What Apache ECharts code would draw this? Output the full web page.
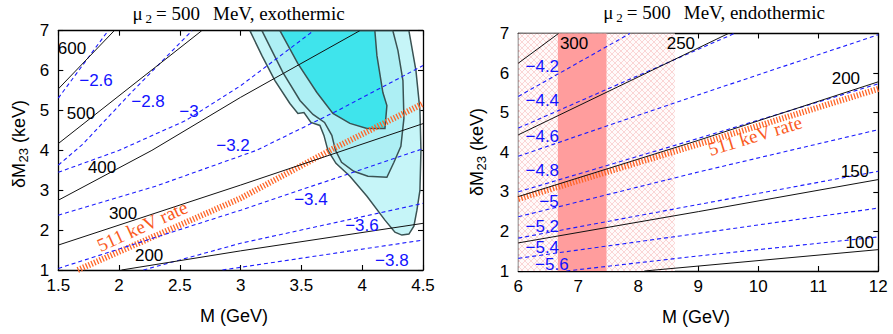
<!DOCTYPE html>
<html>
<head>
<meta charset="utf-8">
<script src="https://cdn.jsdelivr.net/npm/echarts@6/dist/echarts.min.js"></script>
<style>
  html, body { margin: 0; padding: 0; background: #fff; }
  #chart { width: 893px; height: 334px; }
</style>
</head>
<body>
<div id="chart"></div>
<script>
// ---------------- axis ticks ----------------
const exoMassTicks = [1.5, 2, 2.5, 3, 3.5, 4, 4.5];
const endoMassTicks = [6, 7, 8, 9, 10, 11, 12];
const splittingTicks = [1, 2, 3, 4, 5, 6, 7];

// ---------------- exothermic panel ----------------
// contours of constant mu_1 (MeV), points are [M (GeV), dM23 (keV)]
const exoMu600 = [[1.5, 5.54], [1.96, 7]];
const exoMu500 = [[1.5, 4.17], [2.68, 7]];
const exoMu400 = [[1.5, 2.75], [2.27, 4.0], [3.0, 5.33], [3.98, 7]];
const exoMu300 = [[1.5, 1.625], [3.0, 3.13], [4.5, 4.67]];
const exoMu200 = [[2.02, 1.0], [3.0, 1.48], [4.5, 2.17]];
// contours of log10 of the rate
const exoRate26 = [[1.5, 5.31], [1.91, 7]];
const exoRate28 = [[1.5, 3.63], [1.7, 4.15], [2.1, 5.45], [2.6, 7]];
const exoRate30 = [[1.5, 3.45], [2.0, 4.0], [2.55, 4.75], [3.0, 5.62], [3.6, 7]];
const exoRate32 = [[1.5, 2.375], [2.3, 3.1], [3.13, 4.0], [3.8, 5.0], [4.5, 6.125]];
const exoRate34 = [[1.5, 1.04], [3.0, 2.5], [4.5, 4.04]];
const exoRate36 = [[2.2, 1.0], [3.0, 1.67], [4.5, 2.67]];
const exoRate38 = [[2.85, 1.0], [4.5, 1.75]];
// rate needed for the 511 keV line
const exoPositron = [[1.66, 1.0], [3.0, 2.8], [3.76, 4.04], [4.5, 5.17]];
// allowed regions (outer, middle, inner)
const exoRegionOuter = [[3.076, 7.0], [3.175, 6.375], [3.282, 5.75], [3.405, 5.175], [3.471, 4.925],
  [3.521, 4.95], [3.578, 4.7], [3.652, 4.625], [3.685, 4.375], [3.718, 4.0], [3.784, 3.675],
  [3.899, 3.35], [4.039, 2.85], [4.187, 2.25], [4.269, 1.95], [4.326, 1.875], [4.384, 1.9],
  [4.425, 2.1], [4.45, 2.5], [4.475, 3.0], [4.483, 4.0], [4.475, 5.0], [4.442, 6.0], [4.384, 7.0]];
const exoRegionMiddle = [[3.175, 7.0], [3.257, 6.5], [3.348, 5.95], [3.488, 5.25], [3.595, 4.9],
  [3.69, 4.7], [3.75, 4.375], [3.78, 4.0], [3.83, 3.7], [3.93, 3.475], [4.047, 3.35],
  [4.203, 3.325], [4.261, 3.7], [4.318, 4.1], [4.343, 4.8], [4.335, 5.75], [4.294, 6.5], [4.252, 7.0]];
const exoRegionInner = [[3.323, 7.0], [3.471, 6.175], [3.627, 5.45], [3.759, 4.925], [3.899, 4.675],
  [4.039, 4.55], [4.187, 4.55], [4.203, 5.125], [4.17, 5.45], [4.121, 6.375], [4.104, 7.0]];
// label texts and anchor points
const exoMuLabels = [['600', 1.613, 6.55], ['500', 1.687, 4.92], ['400', 1.86, 3.575],
  ['300', 2.033, 2.425], ['200', 2.247, 1.375]];
const exoRateLabels = [['\u22122.6', 1.81, 5.75], ['\u22122.8', 2.238, 5.225], ['\u22123', 2.575, 4.975],
  ['\u22123.2', 2.937, 4.125], ['\u22123.4', 3.578, 2.775], ['\u22123.6', 3.998, 2.125], ['\u22123.8', 4.244, 1.25]];
const exoPositronLabel = ['511 keV rate', 2.19, 2.1, 24.5];

// ---------------- endothermic panel ----------------
const endoMu300 = [[6, 6.25], [6.67, 7.0]];
const endoMu250 = [[6, 4.44], [9.5, 7.0]];
const endoMu200 = [[6, 2.88], [9, 4.3], [12, 5.78]];
const endoMu150 = [[6, 1.71], [9, 2.5], [12, 3.31]];
const endoMu100 = [[8.1, 1.0], [12, 1.54]];
const endoRate42 = [[6, 5.41], [7.86, 7.0]];
const endoRate44 = [[6, 4.61], [9.6, 7.0]];
const endoRate46 = [[6, 3.9], [9, 5.45], [12, 6.97]];
const endoRate48 = [[6, 3.0], [9, 4.35], [12, 5.73]];
const endoRate50 = [[6, 2.37], [9, 3.5], [12, 4.57]];
const endoRate52 = [[6, 1.83], [9, 2.68], [12, 3.52]];
const endoRate54 = [[6, 1.32], [9, 1.95], [12, 2.59]];
const endoRate56 = [[6.8, 1.0], [9, 1.38], [12, 1.86]];
const endoPositron = [[6, 2.82], [9, 4.2], [12, 5.6]];
// excluded mass ranges (GeV)
const endoHatchedRange = [6, 8.61];
const endoExcludedRange = [6.66, 7.47];
const endoMuLabels = [['300', 6.93, 6.76], ['250', 8.71, 6.76], ['200', 11.46, 5.87],
  ['150', 11.61, 3.52], ['100', 11.69, 1.71]];
const endoRateLabels = [['\u22124.2', 6.4, 6.17], ['\u22124.4', 6.4, 5.32], ['\u22124.6', 6.4, 4.40],
  ['\u22124.8', 6.4, 3.53], ['\u22125', 6.51, 2.76], ['\u22125.2', 6.4, 2.13], ['\u22125.4', 6.4, 1.6],
  ['\u22125.6', 6.56, 1.16]];
const endoPositronLabel = ['511 keV rate', 9.945, 4.42, 17];

// ---------------- styling ----------------
const SANS = 'Liberation Sans';
const SERIF = 'Liberation Serif';
const BLUE = '#1c1cff';
const BLACK = '#111';
const ORANGE = '#ff6628';

// crosshatch tile for the hatched mass range
function hatchTile() {
  const c = document.createElement('canvas');
  c.width = 6; c.height = 6;
  const g = c.getContext('2d');
  g.fillStyle = '#fffafa';
  g.fillRect(0, 0, 6, 6);
  g.strokeStyle = 'rgba(245,175,175,0.7)';
  g.lineWidth = 0.7;
  g.beginPath();
  g.moveTo(0, 0); g.lineTo(6, 6);
  g.moveTo(6, 0); g.lineTo(0, 6);
  g.stroke();
  return c.toDataURL();
}

function xAxisPair(grid, ticks) {
  const base = {
    gridIndex: grid, type: 'value',
    min: ticks[0], max: ticks[ticks.length - 1], interval: ticks[1] - ticks[0],
    axisLine: { onZero: false, lineStyle: { color: '#000', width: 1.3 } },
    axisTick: { inside: true, length: 5, lineStyle: { color: '#000', width: 1.1 } },
    splitLine: { show: false }
  };
  return [
    Object.assign({}, base, { position: 'bottom',
      axisLabel: { color: '#000', fontFamily: SANS, fontSize: 17, margin: 7 } }),
    Object.assign({}, base, { position: 'top', axisLabel: { show: false } })
  ];
}
function yAxisPair(grid, ticks) {
  const base = {
    gridIndex: grid, type: 'value',
    min: ticks[0], max: ticks[ticks.length - 1], interval: ticks[1] - ticks[0],
    axisLine: { onZero: false, lineStyle: { color: '#000', width: 1.3 } },
    axisTick: { inside: true, length: 5, lineStyle: { color: '#000', width: 1.1 } },
    splitLine: { show: false }
  };
  return [
    Object.assign({}, base, { position: 'left',
      axisLabel: { color: '#000', fontFamily: SANS, fontSize: 17, margin: 9 } }),
    Object.assign({}, base, { position: 'right', axisLabel: { show: false } })
  ];
}

function curve(points, panel, color, width, type, z) {
  return {
    type: 'line', xAxisIndex: panel * 2, yAxisIndex: panel * 2,
    data: points, symbol: 'none', showSymbol: false, silent: true, clip: true,
    lineStyle: { color: color, width: width, type: type, cap: 'butt', opacity: 1 },
    z: z, animation: false
  };
}
function region(points, fill) {
  return {
    type: 'custom', xAxisIndex: 0, yAxisIndex: 0, coordinateSystem: 'cartesian2d',
    data: [points[0]], clip: true, silent: true, z: 1, animation: false,
    renderItem: function (params, api) {
      return {
        type: 'polygon',
        shape: { points: points.map(function (p) { return api.coord(p); }) },
        style: { fill: fill, stroke: '#3a5253', lineWidth: 1.5 }
      };
    }
  };
}
function labels(list, panel, color, font, size) {
  return {
    type: 'scatter', xAxisIndex: panel * 2, yAxisIndex: panel * 2,
    symbolSize: 0, silent: true, z: 6, animation: false,
    itemStyle: { opacity: 1 },
    data: list.map(function (l) { return { name: l[0], value: [l[1], l[2]] }; }),
    label: {
      show: true, formatter: '{b}', position: [0, 0], align: 'center', verticalAlign: 'middle',
      color: color, fontFamily: font, fontSize: size, opacity: 1
    }
  };
}
function slantedLabel(l, panel) {
  return {
    type: 'scatter', xAxisIndex: panel * 2, yAxisIndex: panel * 2,
    symbolSize: 0, silent: true, z: 6, animation: false,
    itemStyle: { opacity: 1 },
    data: [{ name: l[0], value: [l[1], l[2]] }],
    label: {
      show: true, formatter: '{b}', position: [0, 0], align: 'center', verticalAlign: 'middle',
      rotate: l[3], color: '#fa5a1e', fontFamily: SERIF, fontSize: 19, opacity: 1
    }
  };
}

const series = [
  region(exoRegionOuter, '#c6f5f8'),
  region(exoRegionMiddle, '#adeff4'),
  region(exoRegionInner, '#3fe4ec'),
  curve(exoPositron, 0, ORANGE, 6, [1.3, 1.7], 3),
  curve(exoRate26, 0, BLUE, 1.1, [4, 3], 4),
  curve(exoRate28, 0, BLUE, 1.1, [4, 3], 4),
  curve(exoRate30, 0, BLUE, 1.1, [4, 3], 4),
  curve(exoRate32, 0, BLUE, 1.1, [4, 3], 4),
  curve(exoRate34, 0, BLUE, 1.1, [4, 3], 4),
  curve(exoRate36, 0, BLUE, 1.1, [4, 3], 4),
  curve(exoRate38, 0, BLUE, 1.1, [4, 3], 4),
  curve(exoMu600, 0, BLACK, 1, 'solid', 5),
  curve(exoMu500, 0, BLACK, 1, 'solid', 5),
  curve(exoMu400, 0, BLACK, 1, 'solid', 5),
  curve(exoMu300, 0, BLACK, 1, 'solid', 5),
  curve(exoMu200, 0, BLACK, 1, 'solid', 5),
  labels(exoMuLabels, 0, '#000', SANS, 17),
  labels(exoRateLabels, 0, '#1212ff', SANS, 17),
  slantedLabel(exoPositronLabel, 0),

  {
    type: 'line', xAxisIndex: 2, yAxisIndex: 2, data: [], silent: true, z: 1, animation: false,
    markArea: {
      silent: true,
      itemStyle: { color: { image: hatchTile(), repeat: 'repeat' } },
      data: [[{ xAxis: endoHatchedRange[0] }, { xAxis: endoHatchedRange[1] }]]
    }
  },
  {
    type: 'line', xAxisIndex: 2, yAxisIndex: 2, data: [], silent: true, z: 2, animation: false,
    markArea: {
      silent: true,
      itemStyle: { color: '#ff9d9d', opacity: 1 },
      data: [[{ xAxis: endoExcludedRange[0] }, { xAxis: endoExcludedRange[1] }]]
    }
  },
  curve(endoPositron, 1, ORANGE, 6, [1.3, 1.7], 3),
  curve(endoRate42, 1, BLUE, 1.1, [4, 3], 4),
  curve(endoRate44, 1, BLUE, 1.1, [4, 3], 4),
  curve(endoRate46, 1, BLUE, 1.1, [4, 3], 4),
  curve(endoRate48, 1, BLUE, 1.1, [4, 3], 4),
  curve(endoRate50, 1, BLUE, 1.1, [4, 3], 4),
  curve(endoRate52, 1, BLUE, 1.1, [4, 3], 4),
  curve(endoRate54, 1, BLUE, 1.1, [4, 3], 4),
  curve(endoRate56, 1, BLUE, 1.1, [4, 3], 4),
  curve(endoMu300, 1, BLACK, 1, 'solid', 5),
  curve(endoMu250, 1, BLACK, 1, 'solid', 5),
  curve(endoMu200, 1, BLACK, 1, 'solid', 5),
  curve(endoMu150, 1, BLACK, 1, 'solid', 5),
  curve(endoMu100, 1, BLACK, 1, 'solid', 5),
  labels(endoMuLabels, 1, '#000', SANS, 17),
  labels(endoRateLabels, 1, '#1212ff', SANS, 17),
  slantedLabel(endoPositronLabel, 1)
];

// ---- titles and axis names built from pieces (for sub-scripts) ----
const measureCtx = document.createElement('canvas').getContext('2d');
function textWidth(t, size, fam) {
  measureCtx.font = size + 'px "' + fam + '"';
  return measureCtx.measureText(t).width;
}
// pieces: [text, fontSize, family, baseline shift, gap after]
function textRow(pieces, cx, cy, vertical) {
  const widths = pieces.map(function (p) { return textWidth(p[0], p[1], p[2]); });
  let total = 0;
  pieces.forEach(function (p, i) { total += widths[i] + (i < pieces.length - 1 ? p[4] : 0); });
  let pos = -total / 2;
  return pieces.map(function (p, i) {
    const el = {
      type: 'text', silent: true,
      style: { text: p[0], fontSize: p[1], fontFamily: p[2], fill: '#000',
        align: 'left', verticalAlign: 'middle' }
    };
    if (vertical) {
      el.x = cx + p[3]; el.y = cy - pos; el.rotation = Math.PI / 2;
    } else {
      el.x = cx + pos; el.y = cy + p[3];
    }
    pos += widths[i] + p[4];
    return el;
  });
}
function titleRow(kind, cx, cy) {
  return textRow([
    ['\u03bc', 19, SERIF, 0, 3],
    ['2', 13, SERIF, 5, 4],
    ['= 500', 19, SERIF, 0, 13],
    ['MeV, ' + kind, 19, SERIF, 0, 0]
  ], cx, cy, false);
}
function yNameRow(cx, cy) {
  return textRow([
    ['\u03b4M', 18, SANS, 0, 0.5],
    ['23', 13, SANS, 4, 5],
    ['(keV)', 18, SANS, 0, 0]
  ], cx, cy, true);
}
function xName(x, y) {
  return { type: 'text', x: x, y: y, silent: true,
    style: { text: 'M (GeV)', align: 'center', verticalAlign: 'middle',
      fontFamily: SANS, fontSize: 18, fill: '#000' } };
}

const chart = echarts.init(document.getElementById('chart'), null, { renderer: 'svg' });
chart.setOption({
  backgroundColor: '#fff',
  animation: false,
  grid: [
    { left: 58.3, top: 30.7, width: 364.7, height: 239.3, outerBoundsMode: 'none', containLabel: false },
    { left: 518.3, top: 33.5, width: 360, height: 237.5, outerBoundsMode: 'none', containLabel: false }
  ],
  xAxis: xAxisPair(0, exoMassTicks).concat(xAxisPair(1, endoMassTicks)),
  yAxis: yAxisPair(0, splittingTicks).concat(yAxisPair(1, splittingTicks)),
  series: series,
  graphic: []
    .concat(titleRow('exothermic', 238.5, 13))
    .concat(titleRow('endothermic', 714, 12))
    .concat(yNameRow(19, 144))
    .concat(yNameRow(477, 152))
    .concat([xName(234, 316), xName(696, 317)])
});
</script>
</body>
</html>
